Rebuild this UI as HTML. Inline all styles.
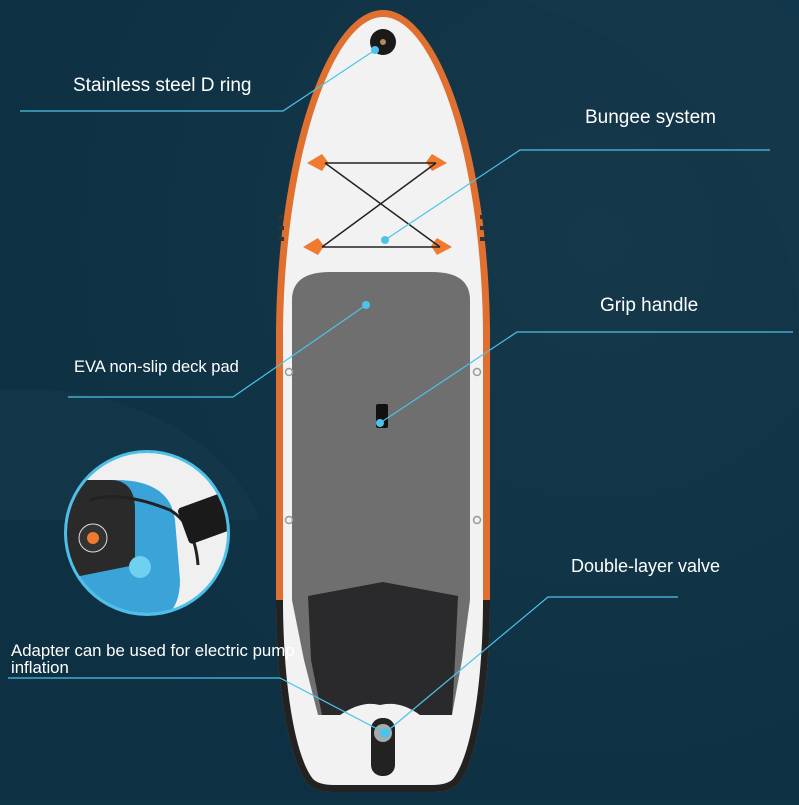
<!DOCTYPE html>
<html><head><style>
body{margin:0;width:799px;height:800px;overflow:hidden;background:#0f3446;}
text{font-family:"Liberation Sans",sans-serif;fill:#fff;}
</style></head><body>
<svg width="799" height="800" viewBox="0 0 799 800" xmlns="http://www.w3.org/2000/svg">
<defs>
<radialGradient id="bg" cx="0.75" cy="0.3" r="0.8"><stop offset="0" stop-color="#15384a"/><stop offset="1" stop-color="#0d3043"/></radialGradient>
<clipPath id="cc"><circle cx="147" cy="533" r="80"/></clipPath>
</defs>
<rect width="799" height="800" fill="url(#bg)"/>
<path d="M520 0 C700 60 799 200 799 330 L799 0Z" fill="#163a4c" opacity="0.6"/>
<path d="M0 390 C120 380 230 440 260 520 L0 520Z" fill="#15394b" opacity="0.6"/>
<!-- board -->
<path d="M383 10 C328 10 278 150 276 330 L276 600 C276 680 288 760 308 784 Q316 792 332 792 L434 792 Q450 792 458 784 C478 760 490 680 490 600 L490 330 C488 150 438 10 383 10Z" fill="#e07030"/>
<path d="M276 600 C276 680 288 760 308 784 Q316 792 332 792 L434 792 Q450 792 458 784 C478 760 490 680 490 600Z" fill="#222"/>
<path d="M383 17 C333 17 285 155 283 330 L283 600 C283 680 294 755 313 779 Q319 785 334 785 L432 785 Q447 785 453 779 C472 755 483 680 483 600 L483 330 C481 155 433 17 383 17Z" fill="#f2f2f2"/>
<!-- stripes -->
<rect x="279" y="215" width="5" height="4" fill="#333"/><rect x="279" y="226" width="5" height="4" fill="#333"/><rect x="279" y="237" width="5" height="4" fill="#333"/>
<rect x="480" y="215" width="5" height="4" fill="#333"/><rect x="480" y="226" width="5" height="4" fill="#333"/><rect x="480" y="237" width="5" height="4" fill="#333"/>
<!-- D ring -->
<circle cx="383" cy="42" r="13" fill="#1a1a1a"/><circle cx="383" cy="42" r="3" fill="#b58a5a"/>
<!-- bungee -->
<g fill="#f07a30">
<path d="M307 163 L322 154 L328 162 L322 171 Z"/><path d="M447 163 L432 154 L426 162 L432 171 Z"/>
<path d="M303 247 L318 238 L324 246 L318 255 Z"/><path d="M452 247 L437 238 L431 246 L437 255 Z"/>
</g>
<g stroke="#222" stroke-width="1.5" fill="none">
<line x1="325" y1="163" x2="436" y2="163"/><line x1="322" y1="247" x2="440" y2="247"/>
<line x1="325" y1="163" x2="440" y2="247"/><line x1="436" y1="163" x2="322" y2="247"/>
</g>
<!-- deck pad -->
<path d="M292 300 Q292 272 330 272 L432 272 Q470 272 470 300 L470 600 L462 660 L452 715 L420 715 Q400 700 380 705 Q362 700 340 715 L318 715 L304 660 L292 600Z" fill="#6f6f6f"/>
<path d="M308 596 L383 582 L458 596 L455 660 L452 715 L420 715 Q400 700 380 705 Q362 700 340 715 L322 715 L311 660Z" fill="#2a2a2c"/>
<!-- handle -->
<rect x="376" y="404" width="12" height="24" rx="2" fill="#111"/>
<!-- side rings -->
<g fill="none" stroke="#999" stroke-width="1.5">
<circle cx="289" cy="372" r="3.5"/><circle cx="477" cy="372" r="3.5"/><circle cx="289" cy="520" r="3.5"/><circle cx="477" cy="520" r="3.5"/></g>
<!-- valve -->
<rect x="371" y="718" width="24" height="58" rx="11" fill="#222"/><circle cx="383" cy="733" r="9" fill="#aaa"/>
<!-- inset circle -->
<circle cx="147" cy="533" r="83" fill="#4cc0e8"/>
<g clip-path="url(#cc)">
<rect x="60" y="450" width="180" height="170" fill="#f0f0f0"/>
<path d="M60 480 L115 480 Q170 480 175 520 L180 580 Q180 610 160 620 L60 620Z" fill="#3aa4d8"/>
<path d="M60 480 L110 480 Q135 480 135 510 L135 565 L60 580Z" fill="#2a2a2a"/>
<circle cx="93" cy="538" r="14" fill="#333" stroke="#ddd" stroke-width="1"/><circle cx="93" cy="538" r="6" fill="#f07a30"/>
<path d="M90 500 Q120 490 170 510 Q195 525 198 565" fill="none" stroke="#222" stroke-width="3"/>
<rect x="182" y="500" width="46" height="38" rx="4" transform="rotate(-20 205 519)" fill="#1a1a1a"/>
<circle cx="140" cy="567" r="11" fill="#6fd0ef"/>
</g>
<!-- leader lines -->
<g stroke="#4cc3ea" stroke-width="1.2" fill="none">
<polyline points="20,111 283,111 375,50"/>
<polyline points="770,150 520,150 385,240"/>
<polyline points="68,397 233,397 366,305"/>
<polyline points="793,332 517,332 380,423"/>
<polyline points="678,597 548,597 385,733"/>
<polyline points="8,678 280,678 385,733"/>
</g>
<g fill="#4cc3ea">
<circle cx="375" cy="50" r="4"/><circle cx="385" cy="240" r="4"/><circle cx="366" cy="305" r="4"/><circle cx="380" cy="423" r="4"/><circle cx="385" cy="733" r="5"/>
</g>
<text x="73" y="91" font-size="19">Stainless steel D ring</text>
<text x="585" y="123" font-size="19">Bungee system</text>
<text x="600" y="311" font-size="19">Grip handle</text>
<text x="74" y="372" font-size="16.5">EVA non-slip deck pad</text>
<text x="571" y="572" font-size="18">Double-layer valve</text>
<text x="11" y="656" font-size="16.8">Adapter can be used for electric pump</text>
<text x="11" y="673" font-size="16.8">inflation</text>
</svg>
</body></html>
